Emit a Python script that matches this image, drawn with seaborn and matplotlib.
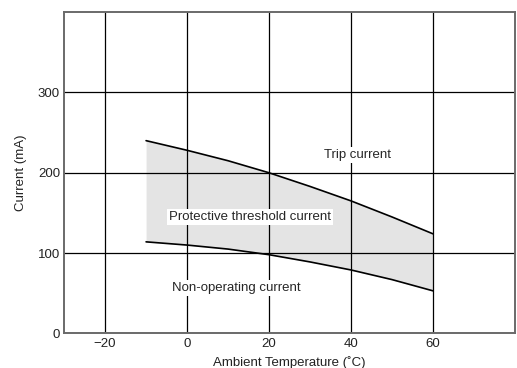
import matplotlib
matplotlib.use("Agg")
import matplotlib.pyplot as plt
import seaborn as sns
import pandas as pd

temps = [-10, 0, 10, 20, 30, 40, 50, 60]
trip_current = [240, 228, 215, 200, 183, 165, 145, 124]
non_operating = [114, 110, 105, 98, 89, 79, 67, 53]
x_ticks = [-20, 0, 20, 40, 60]
y_ticks = [0, 100, 200, 300]

sns.set_theme(style="white")
plt.rcParams['font.family'] = ['Liberation Sans', 'DejaVu Sans']

df = pd.DataFrame({"temp": temps, "trip": trip_current, "nonop": non_operating})

fig = plt.figure(figsize=(5.17, 3.68), dpi=100)
ax = fig.add_axes([0.124, 0.094, 0.872, 0.873])

ax.fill_between(df["temp"], df["nonop"], df["trip"], color="#e4e4e4", linewidth=0, zorder=1)
sns.lineplot(data=df, x="temp", y="trip", ax=ax, color="black", linewidth=1.2, zorder=2)
sns.lineplot(data=df, x="temp", y="nonop", ax=ax, color="black", linewidth=1.2, zorder=2)

ax.set_xlim(-30, 80)
ax.set_ylim(0, 400)
ax.set_xticks(x_ticks)
ax.set_xticklabels(["\u221220", "0", "20", "40", "60"])
ax.set_yticks(y_ticks)
ax.set_axisbelow(False)
ax.grid(True, color="black", linewidth=0.9)
ax.tick_params(axis="both", length=0, labelsize=9.5, colors="#222222", pad=3)
for s in ax.spines.values():
    s.set_color("#6a6a6a")
    s.set_linewidth(1.4)
    s.set_zorder(4)

ax.set_xlabel("Ambient Temperature (\u02daC)", fontsize=9.5, color="#222222", labelpad=5)
ax.set_ylabel("Current (mA)", fontsize=9.5, color="#222222", labelpad=8)

box = dict(facecolor="white", edgecolor="none", pad=1.5)
ax.text(41.5, 222, "Trip current", fontsize=9.5, ha="center", va="center", bbox=box, zorder=3)
ax.text(15.4, 145, "Protective threshold current", fontsize=9.5, ha="center", va="center", bbox=box, zorder=3)
ax.text(12, 57, "Non-operating current", fontsize=9.5, ha="center", va="center", bbox=box, zorder=3)

fig.savefig("out.png", dpi=100)
